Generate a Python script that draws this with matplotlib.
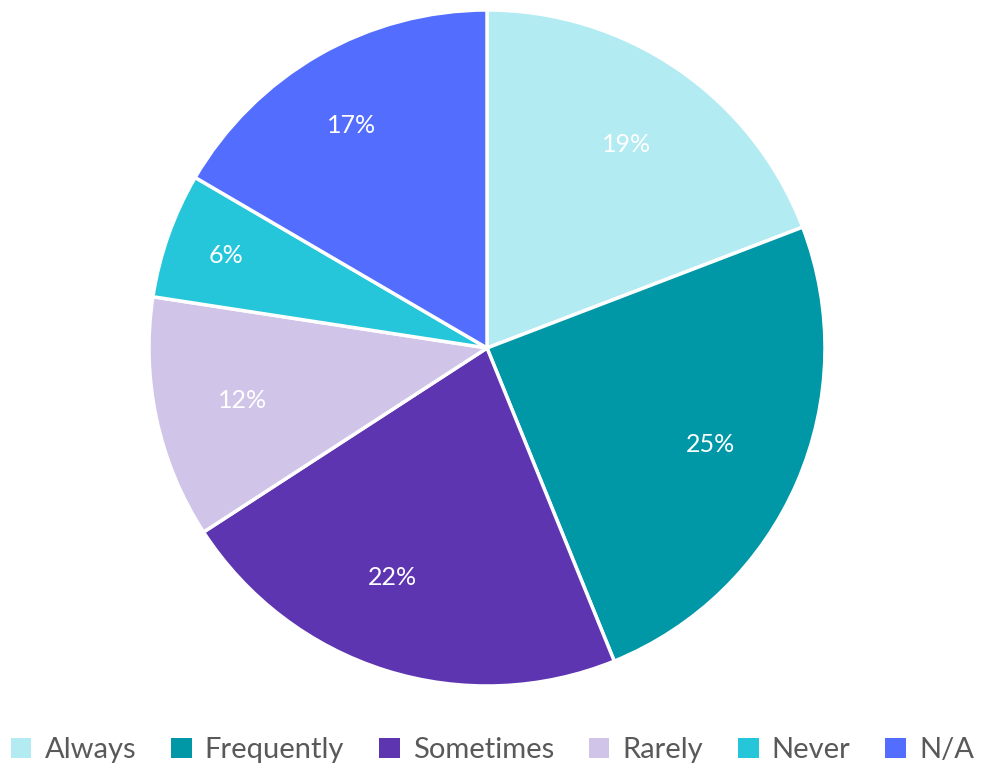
import matplotlib
matplotlib.use("Agg")
import matplotlib.pyplot as plt
from matplotlib.patches import Patch
import numpy as np

categories = ["Always", "Frequently", "Sometimes", "Rarely", "Never", "N/A"]
values = [19.2, 24.7, 22.0, 11.6, 6.0, 16.6]
labels_pct = ["19%", "25%", "22%", "12%", "6%", "17%"]
colors = ["#b2ebf2", "#0097a7", "#5e35b1", "#d1c4e9", "#26c6da", "#536dfe"]

plt.rcParams['font.family'] = ['Lato', 'DejaVu Sans']

W, H = 985, 770
fig = plt.figure(figsize=(W/100, H/100), dpi=100)
cx, cy, r = 487, 348, 338
ax = fig.add_axes([(cx - r)/W, (H - cy - r)/H, 2*r/W, 2*r/H])

wedges, _ = ax.pie(values, colors=colors, startangle=90, counterclock=False,
                   wedgeprops=dict(edgecolor="white", linewidth=2.5))
label_r = [0.73, 0.72, 0.735, 0.74, 0.82, 0.77]
label_dang = [0.0, 0.0, -5.0, 0.0, 0.0, 1.5]
for w, lab, lr, da in zip(wedges, labels_pct, label_r, label_dang):
    th = np.deg2rad((w.theta1 + w.theta2) / 2 + da)
    ax.text(lr*np.cos(th), lr*np.sin(th), lab, ha="center", va="center",
            color="white", fontsize=18, fontweight="normal")
ax.set_xlim(-1, 1)
ax.set_ylim(-1, 1)
ax.set_aspect("equal")
ax.axis("off")

handles = [Patch(facecolor=c, edgecolor="none") for c in colors]
leg = fig.legend(handles, categories, loc="center", bbox_to_anchor=(0.5, (H-750)/H),
                 ncol=6, frameon=False, handlelength=0.7, handleheight=0.7,
                 handletextpad=0.45, columnspacing=1.2,
                 prop=dict(size=21, weight="normal"))
for t in leg.get_texts():
    t.set_color("#595959")

fig.savefig("out.png", dpi=100)
